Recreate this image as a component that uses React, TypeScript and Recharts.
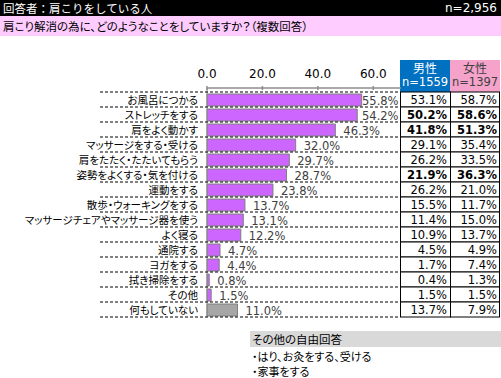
import React from 'react';
import { Bar, BarChart, Cell, LabelList, XAxis, YAxis } from 'recharts';

const categories = [
  'お風呂につかる',
  'ストレッチをする',
  '肩をよく動かす',
  'マッサージをする・受ける',
  '肩をたたく・たたいてもらう',
  '姿勢をよくする・気を付ける',
  '運動をする',
  '散歩・ウォーキングをする',
  'マッサージチェアやマッサージ器を使う',
  'よく寝る',
  '通院する',
  'ヨガをする',
  '拭き掃除をする',
  'その他',
  '何もしていない',
];
const totalValues = [55.8, 54.2, 46.3, 32.0, 29.7, 28.7, 23.8, 13.7, 13.1, 12.2, 4.7, 4.4, 0.8, 1.5, 11.0];
const maleValues = [53.1, 50.2, 41.8, 29.1, 26.2, 21.9, 26.2, 15.5, 11.4, 10.9, 4.5, 1.7, 0.4, 1.5, 13.7];
const femaleValues = [58.7, 58.6, 51.3, 35.4, 33.5, 36.3, 21.0, 11.7, 15.0, 13.7, 4.9, 7.4, 1.3, 1.5, 7.9];
const boldRows = [false, true, true, false, false, true, false, false, false, false, false, false, false, false, false];
const xTicks = [0, 20, 40, 60];
const freeAnswers = ['・はり、お灸をする、受ける', '・家事をする'];

const JP = '"Noto Sans CJK JP", "Noto Sans", sans-serif';
const NUM = '"DejaVu Sans", Verdana, sans-serif';
const ROW_H = 15;

const data = categories.map((name, i) => ({
  name,
  total: totalValues[i],
  male: maleValues[i],
  female: femaleValues[i],
  bold: boldRows[i],
}));

function TopTick(props: any) {
  const { x, y, payload } = props;
  return (
    <g>
      <line x1={x} x2={x} y1={y} y2={y + 4} stroke="#8c8c8c" strokeWidth={1.5} />
      <text x={x} y={y - 8} textAnchor="middle" fontFamily={NUM} fontSize={12} fill="#000">
        {Number(payload.value).toFixed(1)}
      </text>
    </g>
  );
}

function RowTick(props: any) {
  const { x, y, payload, index } = props;
  const row = data[index] || data.find((d) => d.name === payload.value);
  const top = y - ROW_H / 2;
  const weight = row && row.bold ? 'bold' : 'normal';
  return (
    <g>
      <line x1={100} x2={400} y1={top} y2={top} stroke="#000" strokeDasharray="3 2" />
      {index === data.length - 1 && (
        <line x1={100} x2={400} y1={top + ROW_H} y2={top + ROW_H} stroke="#000" strokeDasharray="3 2" />
      )}
      <text
        x={x}
        y={y + 4}
        textAnchor="end"
        fontFamily={JP}
        fontSize={10.5}
        fill="#000"
        style={{ fontFeatureSettings: '"palt"' }}
      >
        {payload.value}
      </text>
      <rect x={400.5} y={top} width={50} height={ROW_H} fill="#fff" stroke="#000" />
      <rect x={450.5} y={top} width={49} height={ROW_H} fill="#fff" stroke="#000" />
      <text x={447} y={y + 4.5} textAnchor="end" fontFamily={NUM} fontSize={11.5} fontWeight={weight} fill="#000">
        {row.male.toFixed(1)}%
      </text>
      <text x={497} y={y + 4.5} textAnchor="end" fontFamily={NUM} fontSize={11.5} fontWeight={weight} fill="#000">
        {row.female.toFixed(1)}%
      </text>
    </g>
  );
}

function ValueLabel(props: any) {
  const { x, y, width, height, value } = props;
  const lx = Math.min(x + width + 8, 362);
  return (
    <text x={lx} y={y + height / 2 + 5} fontFamily={NUM} fontSize={11.5} fill="#404040">
      {Number(value).toFixed(1)}%
    </text>
  );
}

export default function App() {
  return (
    <div style={{ position: 'fixed', left: 0, top: 0, width: 501, height: 378, background: '#fff', overflow: 'hidden' }}>
      <div
        style={{
          position: 'absolute', left: 0, top: 0, width: 501, height: 16, background: '#000', color: '#fff',
          fontFamily: JP, fontSize: 11.5, lineHeight: '16px',
        }}
      >
        <span style={{ position: 'absolute', left: 3, top: 0 }}>回答者：肩こりをしている人</span>
        <span style={{ position: 'absolute', right: 4, top: 0, fontFamily: NUM, fontSize: 12 }}>n=2,956</span>
      </div>
      <div
        style={{
          position: 'absolute', left: 0, top: 16, width: 501, height: 20, background: '#ffccff', color: '#000',
          fontFamily: JP, fontSize: 11.5, lineHeight: '20px', fontFeatureSettings: '"palt"', paddingLeft: 3,
          boxSizing: 'border-box',
        }}
      >
        肩こり解消の為に、どのようなことをしていますか？（複数回答）
      </div>
      <div
        style={{
          position: 'absolute', left: 400, top: 60, width: 50, height: 32, background: '#0070c0', color: '#fff',
          textAlign: 'center', fontSize: 12, lineHeight: '15px', paddingTop: 0, boxSizing: 'border-box',
        }}
      >
        <div style={{ fontFamily: JP }}>男性</div>
        <div style={{ fontFamily: NUM, fontSize: 11.5 }}>n=1559</div>
      </div>
      <div
        style={{
          position: 'absolute', left: 450, top: 60, width: 50, height: 32, background: '#f5a3cb', color: '#404040',
          textAlign: 'center', fontSize: 12, lineHeight: '15px', paddingTop: 0, boxSizing: 'border-box',
        }}
      >
        <div style={{ fontFamily: JP }}>女性</div>
        <div style={{ fontFamily: NUM, fontSize: 11.5 }}>n=1397</div>
      </div>
      <div style={{ position: 'absolute', left: 0, top: 0 }}>
        <BarChart
          width={501}
          height={378}
          data={data}
          layout="vertical"
          margin={{ top: 68, right: 100, left: 0, bottom: 61 }}
          barSize={12}
        >
          <XAxis
            type="number"
            orientation="top"
            domain={[0, 70]}
            ticks={xTicks}
            height={20}
            tickSize={0}
            tickLine={false}
            axisLine={{ stroke: '#8c8c8c', strokeWidth: 1.5 }}
            tick={<TopTick />}
          />
          <YAxis
            type="category"
            dataKey="name"
            width={207}
            padding={{ top: 4, bottom: 0 }}
            tickSize={0}
            tickMargin={9}
            tickLine={false}
            axisLine={{ stroke: '#8c8c8c' }}
            interval={0}
            tick={<RowTick />}
          />
          <Bar dataKey="total" stroke="#7f7f7f" strokeWidth={1} isAnimationActive={false}>
            {data.map((d, i) => (
              <Cell key={`c-${i}`} fill={i === data.length - 1 ? '#a6a6a6' : '#cc66ff'} />
            ))}
            <LabelList dataKey="total" content={<ValueLabel />} />
          </Bar>
        </BarChart>
      </div>
      <div
        style={{
          position: 'absolute', left: 250, top: 331, width: 251, height: 16, background: '#d9d9d9', color: '#000',
          fontFamily: JP, fontSize: 11.5, lineHeight: '16px', paddingLeft: 2, boxSizing: 'border-box',
          fontFeatureSettings: '"palt"',
        }}
      >
        その他の自由回答
      </div>
      {freeAnswers.map((t, i) => (
        <div
          key={t}
          style={{
            position: 'absolute', left: 252, top: 349 + i * 15, height: 15, color: '#000', fontFamily: JP,
            fontSize: 11, lineHeight: '15px', fontFeatureSettings: '"palt"', whiteSpace: 'nowrap',
          }}
        >
          {t}
        </div>
      ))}
    </div>
  );
}
